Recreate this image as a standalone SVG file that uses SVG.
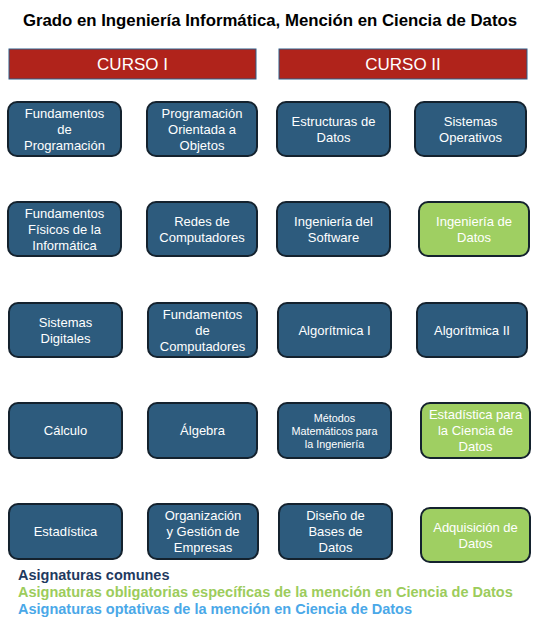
<svg xmlns="http://www.w3.org/2000/svg" width="536" height="628" viewBox="0 0 536 628">
<style>
text{font-family:"Liberation Sans",Arial,sans-serif;}
.title{font-size:16.8px;font-weight:bold;fill:#000;text-anchor:middle;}
.hdr rect{fill:#b0231b;stroke:#2d5f8a;stroke-width:1;}
.hdr text{fill:#fff;font-size:17px;text-anchor:middle;}
.n rect{fill:#2d5b7d;stroke:#14222e;stroke-width:2;}
.g rect{fill:#9fcf62;}
.n text{fill:#fff;font-size:13px;text-anchor:middle;}
.sm text{font-size:10.8px;}
.leg{font-size:14.5px;font-weight:bold;}
</style>
<rect width="536" height="628" fill="#fff"/>
<text class="title" x="270" y="26">Grado en Ingeniería Informática, Mención en Ciencia de Datos</text>
<g id="curso1" class="hdr"><rect x="9" y="49" width="247" height="30"/><text x="132.5" y="70">CURSO I</text></g>
<g id="curso2" class="hdr"><rect x="279" y="49" width="248" height="30"/><text x="403" y="70">CURSO II</text></g>
<g id="connectors"></g>

<g id="n1" class="n"><rect x="8" y="102" width="113" height="54" rx="9"/><text x="64.5" y="118">Fundamentos</text><text x="64.5" y="134">de</text><text x="64.5" y="150">Programación</text></g>
<g id="n2" class="n"><rect x="147" y="102" width="110" height="54" rx="9"/><text x="202" y="118">Programación</text><text x="202" y="134">Orientada a</text><text x="202" y="150">Objetos</text></g>
<g id="n3" class="n"><rect x="277" y="102" width="113" height="54" rx="9"/><text x="333.5" y="126">Estructuras de</text><text x="333.5" y="142">Datos</text></g>
<g id="n4" class="n"><rect x="415" y="102" width="111" height="54" rx="9"/><text x="470.5" y="126">Sistemas</text><text x="470.5" y="142">Operativos</text></g>

<g id="n5" class="n"><rect x="8" y="202" width="113" height="54" rx="9"/><text x="64.5" y="218">Fundamentos</text><text x="64.5" y="234">Físicos de la</text><text x="64.5" y="250">Informática</text></g>
<g id="n6" class="n"><rect x="147" y="202" width="110" height="54" rx="9"/><text x="202" y="226">Redes de</text><text x="202" y="242">Computadores</text></g>
<g id="n7" class="n"><rect x="277" y="202" width="113" height="54" rx="9"/><text x="333.5" y="226">Ingeniería del</text><text x="333.5" y="242">Software</text></g>
<g id="n8" class="n g"><rect x="419" y="202" width="110" height="54" rx="9"/><text x="474" y="226">Ingeniería de</text><text x="474" y="242">Datos</text></g>

<g id="n9" class="n"><rect x="9" y="303" width="113" height="54" rx="9"/><text x="65.5" y="327">Sistemas</text><text x="65.5" y="343">Digitales</text></g>
<g id="n10" class="n"><rect x="148" y="303" width="109" height="54" rx="9"/><text x="202.5" y="319">Fundamentos</text><text x="202.5" y="335">de</text><text x="202.5" y="351">Computadores</text></g>
<g id="n11" class="n"><rect x="278" y="303" width="113" height="54" rx="9"/><text x="334.5" y="335">Algorítmica I</text></g>
<g id="n12" class="n"><rect x="417" y="303" width="110" height="54" rx="9"/><text x="472" y="335">Algorítmica II</text></g>

<g id="n13" class="n"><rect x="9" y="403" width="113" height="55" rx="9"/><text x="65.5" y="435">Cálculo</text></g>
<g id="n14" class="n"><rect x="148" y="403" width="109" height="55" rx="9"/><text x="202.5" y="435">Álgebra</text></g>
<g id="n15" class="n sm"><rect x="278" y="403" width="113" height="55" rx="9"/><text x="334.5" y="422">Métodos</text><text x="334.5" y="435">Matemáticos para</text><text x="334.5" y="448">la Ingeniería</text></g>
<g id="n16" class="n g"><rect x="421" y="403" width="109" height="55" rx="9"/><text x="475.5" y="419">Estadística para</text><text x="475.5" y="435">la Ciencia de</text><text x="475.5" y="451">Datos</text></g>

<g id="n17" class="n"><rect x="9" y="504" width="113" height="55" rx="9"/><text x="65.5" y="536">Estadística</text></g>
<g id="n18" class="n"><rect x="148" y="504" width="110" height="55" rx="9"/><text x="203" y="520">Organización</text><text x="203" y="536">y Gestión de</text><text x="203" y="552">Empresas</text></g>
<g id="n19" class="n"><rect x="279" y="504" width="113" height="55" rx="9"/><text x="335.5" y="520">Diseño de</text><text x="335.5" y="536">Bases de</text><text x="335.5" y="552">Datos</text></g>
<g id="n20" class="n g"><rect x="421" y="508" width="109" height="54" rx="9"/><text x="475.5" y="532">Adquisición de</text><text x="475.5" y="548">Datos</text></g>

<g id="legend">
<text class="leg" x="18" y="580" fill="#1f3a5f">Asignaturas comunes</text>
<text class="leg" x="18" y="597" fill="#9ccc5c">Asignaturas obligatorias específicas de la mención en Ciencia de Datos</text>
<text class="leg" x="18" y="614" fill="#4aa8e8">Asignaturas optativas de la mención en Ciencia de Datos</text>
</g>
</svg>
